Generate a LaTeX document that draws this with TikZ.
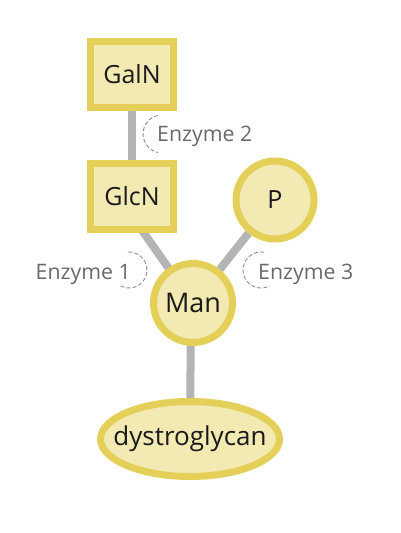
\documentclass[tikz,border=0pt]{standalone}
\usepackage{fontspec}
\setmainfont{Open Sans}
\usetikzlibrary{shapes.geometric,backgrounds}
\definecolor{gold}{RGB}{228,207,88}
\definecolor{pale}{RGB}{243,233,178}
\definecolor{link}{RGB}{180,180,180}
\definecolor{enz}{RGB}{105,105,105}
\definecolor{arcc}{RGB}{140,140,140}
\tikzset{
  sugarsq/.style={draw=gold,fill=pale,line width=7pt,minimum width=83pt,minimum height=66pt,inner sep=0pt,font=\fontsize{25}{28}\selectfont,text=black!90},
  sugarci/.style={circle,draw=gold,fill=pale,line width=7pt,inner sep=0pt,font=\fontsize{25}{28}\selectfont,text=black!90},
  protein/.style={ellipse,draw=gold,fill=pale,line width=7pt,minimum width=179pt,minimum height=75pt,inner xsep=-14pt,inner ysep=0pt,font=\fontsize{26}{29}\selectfont,text=black!90},
  linkage/.style={draw=link,line width=8pt},
  enzlabel/.style={text=enz,font=\fontsize{21.3}{24}\selectfont,inner sep=0pt},
  enzarc/.style={draw=arcc,line width=0.9pt,dash pattern=on 4pt off 2.2pt}
}
\begin{document}
\begin{tikzpicture}[x=1pt,y=-1pt]
\useasboundingbox (0,0) rectangle (400,533);
\node[sugarsq] (GalN) at (132,74) {GalN};
\node[sugarsq] (GlcN) at (132,196) {GlcN};
\node[sugarci,minimum size=78pt] (P) at (275,200) {P};
\node[sugarci,minimum size=79pt,font=\fontsize{27}{30}\selectfont] (Man) at (193,303) {Man};
\node[protein] (dg) at (190,439) {dystroglycan};
\begin{scope}[on background layer]
\draw[linkage] (GalN) -- (GlcN);
\draw[linkage] ([xshift=-14pt]GlcN.center) -- (Man.center);
\draw[linkage] (P) -- (Man);
\draw[linkage] ([xshift=-2pt]Man.center) -- (dg);
\end{scope}
\node[enzlabel,anchor=west] (E2) at (157,136) {Enzyme 2};
\node[enzlabel,anchor=east] (E1) at (131,274) {Enzyme 1};
\node[enzlabel,anchor=west] (E3) at (258,274) {Enzyme 3};
\coordinate (c2) at (162,134);
\coordinate (c1) at (129,270);
\coordinate (c3) at (261,270);
\draw[enzarc] ([shift={(102:19pt)}]c2) arc[start angle=102,end angle=258,radius=19pt];
\draw[enzarc] ([shift={(-118:18pt)}]c1) arc[start angle=-118,end angle=100,radius=18pt];
\draw[enzarc] ([shift={(80:18pt)}]c3) arc[start angle=80,end angle=298,radius=18pt];
\end{tikzpicture}
\end{document}
